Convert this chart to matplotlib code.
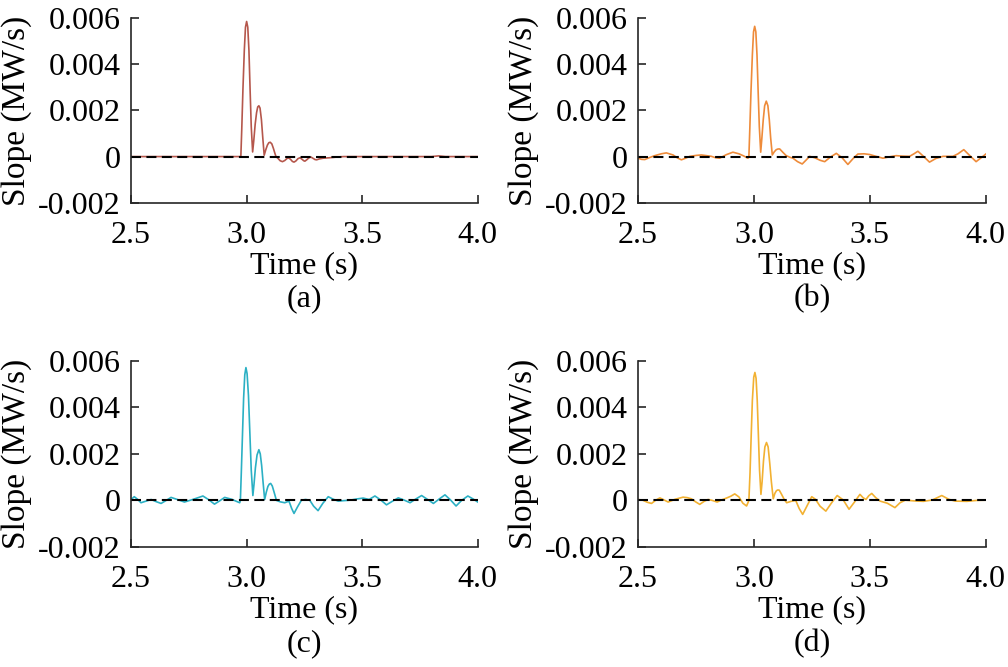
import numpy as np
import matplotlib.pyplot as plt

# slope values are in units of 1e-3 MW/s
t_a = [2.500, 2.975, 2.979, 2.984, 2.990, 2.995, 3.000, 3.005, 3.010, 3.015, 3.020, 3.026,
       3.031, 3.037, 3.043, 3.048, 3.053, 3.058, 3.064, 3.070, 3.076,
       3.083, 3.090, 3.096, 3.102, 3.109, 3.116, 3.122, 3.127,
       3.135, 3.145, 3.155, 3.165, 3.175, 3.182, 3.190, 3.198, 3.205, 3.213, 3.222, 3.231,
       3.240, 3.247, 3.252, 3.260, 3.270, 3.278, 3.288, 3.296, 3.303, 3.315, 3.331, 3.345,
       3.360, 3.390, 3.420, 3.800, 3.830, 3.860, 4.000]
s_a = [0, 0, 1.2, 2.9, 4.6, 5.6, 5.85, 5.6, 4.6, 2.9, 1.3, 0.2,
       0.7, 1.4, 1.9, 2.15, 2.2, 2.1, 1.6, 0.8, 0.06,
       0.3, 0.5, 0.6, 0.62, 0.55, 0.35, 0.15, 0.0,
       -0.07, -0.18, -0.22, -0.17, -0.08, -0.06, -0.12, -0.21, -0.24, -0.19, -0.09, -0.05,
       -0.12, -0.18, -0.2, -0.14, -0.05, -0.02, -0.08, -0.13, -0.14, -0.10, -0.07, -0.06,
       -0.05, -0.02, 0.0, 0.0, 0.03, 0.0, 0.0]

t_b = [2.500, 2.515, 2.529, 2.550, 2.572, 2.600, 2.622, 2.651, 2.670, 2.687, 2.705, 2.723,
       2.750, 2.773, 2.795, 2.816, 2.835, 2.852, 2.880, 2.909, 2.935, 2.953, 2.974,
       2.978, 2.982, 2.987, 2.993, 2.998, 3.003, 3.008, 3.013, 3.018, 3.023, 3.029,
       3.034, 3.040, 3.046, 3.053, 3.060, 3.066, 3.072, 3.079,
       3.087, 3.096, 3.104, 3.111, 3.125, 3.139, 3.155, 3.168, 3.188, 3.208, 3.225, 3.240,
       3.262, 3.285, 3.305, 3.330, 3.355, 3.380, 3.405, 3.428, 3.448, 3.475, 3.499, 3.530,
       3.556, 3.585, 3.613, 3.640, 3.671, 3.690, 3.707, 3.730, 3.757, 3.785, 3.815, 3.858,
       3.880, 3.905, 3.930, 3.958, 3.980, 4.000]
s_b = [-0.07, -0.12, -0.13, -0.04, 0.04, 0.12, 0.16, 0.07, -0.06, -0.14, -0.07, 0.01,
       0.05, 0.07, 0.04, 0.01, -0.05, -0.07, 0.08, 0.19, 0.12, 0.04, -0.07,
       0.0, 1.2, 2.8, 4.4, 5.4, 5.64, 5.4, 4.4, 2.8, 1.3, 0.19,
       0.8, 1.6, 2.2, 2.4, 2.2, 1.6, 0.8, 0.07,
       0.2, 0.3, 0.33, 0.33, 0.18, 0.04, -0.03, -0.07, -0.22, -0.32, -0.15, 0.01,
       -0.05, -0.16, -0.22, -0.02, 0.14, -0.05, -0.34, -0.08, 0.11, 0.12, 0.09, 0.0,
       -0.07, -0.01, 0.04, 0.02, 0.01, 0.12, 0.23, 0.02, -0.24, -0.08, 0.01, 0.01,
       0.12, 0.30, 0.05, -0.22, -0.05, 0.11]

t_c = [2.500, 2.514, 2.528, 2.543, 2.565, 2.587, 2.608, 2.630, 2.652, 2.673, 2.700, 2.731,
       2.770, 2.811, 2.836, 2.861, 2.883, 2.905, 2.935, 2.970,
       2.973, 2.977, 2.982, 2.987, 2.992, 2.997, 3.002, 3.008, 3.014, 3.020, 3.027,
       3.032, 3.038, 3.045, 3.053, 3.059, 3.065, 3.071, 3.078,
       3.085, 3.092, 3.098, 3.104, 3.111, 3.119, 3.129, 3.145, 3.165, 3.178, 3.184, 3.195,
       3.205, 3.220, 3.237, 3.255, 3.273, 3.290, 3.309, 3.330, 3.353, 3.375, 3.396, 3.420,
       3.447, 3.475, 3.504, 3.530, 3.555, 3.580, 3.605, 3.630, 3.656, 3.680, 3.707, 3.730,
       3.757, 3.783, 3.808, 3.833, 3.858, 3.882, 3.906, 3.930, 3.957, 3.980, 4.000]
s_c = [0.04, 0.16, 0.05, -0.10, -0.03, 0.04, -0.05, -0.13, 0.0, 0.13, 0.04, -0.07,
       0.05, 0.19, 0.03, -0.16, -0.02, 0.13, 0.05, -0.10,
       0.0, 1.2, 2.8, 4.4, 5.4, 5.71, 5.45, 4.5, 2.9, 1.3, 0.21,
       0.7, 1.4, 1.95, 2.18, 2.0, 1.5, 0.8, 0.04,
       0.35, 0.6, 0.7, 0.73, 0.62, 0.35, 0.0, -0.06, -0.10, -0.05, -0.05, -0.35,
       -0.56, -0.28, 0.01, 0.04, 0.01, -0.25, -0.44, -0.12, 0.16, 0.05, -0.03, -0.01,
       0.01, 0.06, 0.10, 0.04, 0.19, 0.02, -0.19, -0.04, 0.11, 0.02, -0.10, 0.05,
       0.21, 0.04, -0.13, 0.06, 0.24, 0.02, -0.24, 0.0, 0.19, 0.06, -0.07]

t_d = [2.500, 2.520, 2.540, 2.558, 2.575, 2.594, 2.612, 2.630, 2.660, 2.694, 2.712, 2.730,
       2.748, 2.766, 2.785, 2.802, 2.820, 2.841, 2.860, 2.881, 2.900, 2.917, 2.935, 2.952,
       2.968, 2.974,
       2.978, 2.983, 2.988, 2.993, 2.999, 3.004, 3.009, 3.014, 3.019, 3.024, 3.030,
       3.035, 3.041, 3.047, 3.054, 3.061, 3.068, 3.075, 3.083,
       3.090, 3.097, 3.103, 3.109, 3.118, 3.130, 3.141, 3.160, 3.180, 3.195, 3.210, 3.228,
       3.249, 3.265, 3.285, 3.310, 3.335, 3.359, 3.385, 3.410, 3.435, 3.457, 3.470, 3.483,
       3.495, 3.508, 3.525, 3.544, 3.575, 3.608, 3.630, 3.652, 3.690, 3.731, 3.770, 3.810,
       3.840, 3.868, 3.918, 3.960, 4.000]
s_d = [0.04, 0.01, -0.08, -0.13, 0.0, 0.11, 0.02, -0.07, 0.05, 0.14, 0.12, 0.07,
       -0.06, -0.17, -0.04, 0.04, 0.0, -0.07, 0.02, 0.10, 0.18, 0.28, 0.15, -0.12,
       -0.24, -0.10,
       0.0, 1.2, 2.8, 4.3, 5.3, 5.5, 5.25, 4.3, 2.8, 1.3, 0.26,
       0.8, 1.7, 2.3, 2.49, 2.3, 1.6, 0.8, 0.07,
       0.3, 0.42, 0.45, 0.44, 0.28, 0.05, -0.10, -0.04, 0.0, -0.35, -0.60, -0.25,
       0.16, 0.05, -0.25, -0.46, -0.10, 0.21, 0.02, -0.38, -0.05, 0.26, 0.12, 0.04,
       0.20, 0.30, 0.12, -0.03, -0.12, -0.31, -0.10, 0.01, -0.02, -0.04, 0.02, 0.21,
       0.05, -0.03, -0.04, 0.0, 0.01]

panels = [
    (t_a, s_a, '#b5574c', '(a)', [0.130, 0.696, 0.344, 0.277]),
    (t_b, s_b, '#ee8b3a', '(b)', [0.633, 0.696, 0.345, 0.277]),
    (t_c, s_c, '#2bb0c4', '(c)', [0.130, 0.180, 0.344, 0.279]),
    (t_d, s_d, '#f2b132', '(d)', [0.633, 0.180, 0.345, 0.279]),
]

plt.rcParams['font.family'] = ['Liberation Serif', 'DejaVu Serif']

fig = plt.figure(figsize=(10.08, 6.67), dpi=100)

for t, s, color, tag, pos in panels:
    ax = fig.add_axes(pos)
    ax.plot(t, np.array(s) / 1000.0, color=color, linewidth=1.2)
    ax.axhline(0, color='black', linewidth=1.5, linestyle=(0, (4.8, 2.6)))
    ax.set_xlim(2.5, 4.0)
    ax.set_ylim(-0.002, 0.006)
    ax.set_xticks([2.5, 3.0, 3.5, 4.0])
    ax.set_xticklabels(['2.5', '3.0', '3.5', '4.0'])
    ax.set_yticks([-0.002, 0, 0.002, 0.004, 0.006])
    ax.set_yticklabels(['-0.002', '0', '0.002', '0.004', '0.006'])
    for side in ['top', 'right']:
        ax.spines[side].set_visible(False)
    for side in ['left', 'bottom']:
        ax.spines[side].set_color('#262626')
        ax.spines[side].set_linewidth(1.2)
    ax.tick_params(direction='in', length=5.5, width=1.2, color='#262626',
                   labelsize=23)
    ax.tick_params(axis='y', pad=7.5)
    ax.tick_params(axis='x', pad=13)
    ax.set_xlabel('Time (s)', fontsize=23, labelpad=1)
    ax.set_ylabel('Slope (MW/s)', fontsize=24)
    ax.yaxis.set_label_coords(-0.285, 0.5)
    ax.text(0.5, -0.52, tag, transform=ax.transAxes, fontsize=23,
            ha='center', va='center')

fig.savefig('out.png', dpi=100)
